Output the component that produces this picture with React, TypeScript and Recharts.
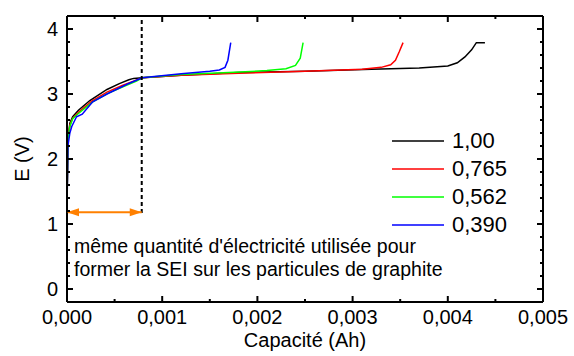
import { LineChart, Line, XAxis, YAxis } from 'recharts'

// capacity (Ah) / potential (V) per series
const cap100 = [0, 0.00001, 0.00003, 0.00006, 0.00012, 0.00024, 0.00042, 0.00055, 0.00065, 0.0007, 0.00079, 0.0012, 0.0018, 0.0025, 0.0032, 0.0037, 0.004, 0.0041, 0.00418, 0.00425, 0.0043, 0.00439]
const e100 = [1.3, 2.3, 2.55, 2.65, 2.75, 2.9, 3.07, 3.16, 3.22, 3.24, 3.25, 3.29, 3.33, 3.35, 3.38, 3.4, 3.43, 3.48, 3.57, 3.68, 3.79, 3.79]

const cap765 = [0, 0.00001, 0.00003, 0.00006, 0.00012, 0.00026, 0.00042, 0.00058, 0.00072, 0.00079, 0.0012, 0.0018, 0.0025, 0.0031, 0.0033, 0.0034, 0.00345, 0.00349, 0.00353]
const e765 = [1.3, 2.3, 2.52, 2.63, 2.72, 2.89, 3.03, 3.13, 3.21, 3.25, 3.29, 3.32, 3.35, 3.38, 3.41, 3.45, 3.52, 3.65, 3.79]

const cap562 = [0, 0.00001, 0.00003, 0.00006, 0.00012, 0.00027, 0.00043, 0.0006, 0.00073, 0.00079, 0.0012, 0.0017, 0.0021, 0.0023, 0.0024, 0.00245, 0.00248]
const e562 = [1.3, 2.3, 2.5, 2.62, 2.7, 2.88, 3.01, 3.12, 3.2, 3.25, 3.3, 3.33, 3.36, 3.39, 3.44, 3.55, 3.79]

const cap390 = [0, 0.00001, 0.00003, 0.00005, 0.0001, 0.00016, 0.00027, 0.00042, 0.00063, 0.00079, 0.0012, 0.0015, 0.0016, 0.00166, 0.00169, 0.00172]
const e390 = [1.25, 2.2, 2.4, 2.5, 2.65, 2.69, 2.88, 3.0, 3.15, 3.25, 3.31, 3.35, 3.37, 3.41, 3.52, 3.79]

// SEI marker: dashed vertical + double arrow
const dashX = [0.000785, 0.000785]
const dashY = [1.17, 4.2]
const arrowX = [0, 0.000785]
const arrowY = [1.18, 1.18]

const seriesNames = ['1,00', '0,765', '0,562', '0,390']
const seriesColors = ['#000000', '#ff0000', '#00ff00', '#0000ff']

const xTicks = Array.from({ length: 11 }, (_, i) => Math.round(i * 5) / 10000)
const yTicks = Array.from({ length: 21 }, (_, i) => Math.round(i * 2) / 10)

const toPts = (xs: number[], ys: number[]) => xs.map((x, i) => ({ x, y: ys[i] }))

const series = [
  toPts(cap100, e100),
  toPts(cap765, e765),
  toPts(cap562, e562),
  toPts(cap390, e390),
]

const FONT = '"Liberation Sans", Arial, sans-serif'

const isMajorX = (v: number) => Math.abs(v * 1000 - Math.round(v * 1000)) < 1e-6
const isMajorY = (v: number) => Math.abs(v - Math.round(v)) < 1e-6

const BottomTick = (p: any) => {
  const v = p.payload.value
  const major = isMajorX(v)
  return (
    <g>
      <line x1={p.x} x2={p.x} y1={p.y} y2={p.y - (major ? 6 : 3)} stroke="#000" strokeWidth={2} />
      {major && (
        <text x={p.x} y={p.y + 22} textAnchor="middle" fontSize={20} fontFamily={FONT} fill="#000">
          {v.toFixed(3).replace('.', ',')}
        </text>
      )}
    </g>
  )
}

const TopTick = (p: any) => {
  const major = isMajorX(p.payload.value)
  return <line x1={p.x} x2={p.x} y1={p.y} y2={p.y + (major ? 6 : 3)} stroke="#000" strokeWidth={2} />
}

const LeftTick = (p: any) => {
  const v = p.payload.value
  const major = isMajorY(v)
  return (
    <g>
      <line x1={p.x} x2={p.x + (major ? 6 : 3)} y1={p.y} y2={p.y} stroke="#000" strokeWidth={2} />
      {major && (
        <text x={p.x - 9} y={p.y + 7} textAnchor="end" fontSize={20} fontFamily={FONT} fill="#000">
          {String(Math.round(v))}
        </text>
      )}
    </g>
  )
}

const RightTick = (p: any) => {
  const major = isMajorY(p.payload.value)
  return <line x1={p.x} x2={p.x - (major ? 6 : 3)} y1={p.y} y2={p.y} stroke="#000" strokeWidth={2} />
}

const ArrowHead = (p: any) => {
  const { cx, cy, index } = p
  const dir = index === 0 ? 1 : -1
  return (
    <path
      key={index}
      d={`M${cx},${cy} L${cx + dir * 12},${cy - 4} L${cx + dir * 12},${cy + 4} Z`}
      fill="#ff8000"
      stroke="none"
    />
  )
}

export default function App() {
  return (
    <div style={{ position: 'absolute', left: 0, top: 0, width: 574, height: 356, background: '#fff', fontFamily: FONT }}>
      <LineChart width={574} height={356} margin={{ top: 15, right: 30, bottom: 14, left: 17 }}>
        <XAxis
          xAxisId="b"
          dataKey="x"
          type="number"
          domain={[0, 0.005]}
          ticks={xTicks}
          interval={0}
          allowDataOverflow
          height={40}
          tickSize={0}
          tickMargin={0}
          tickLine={false}
          axisLine={{ stroke: '#000', strokeWidth: 2 }}
          tick={<BottomTick />}
          label={{ value: 'Capacité (Ah)', position: 'bottom', offset: -9, fontSize: 20, fill: '#000', fontFamily: FONT }}
        />
        <XAxis
          xAxisId="t"
          orientation="top"
          dataKey="x"
          type="number"
          domain={[0, 0.005]}
          ticks={xTicks}
          interval={0}
          allowDataOverflow
          height={1}
          tickSize={0}
          tickMargin={0}
          tickLine={false}
          axisLine={{ stroke: '#000', strokeWidth: 2 }}
          tick={<TopTick />}
        />
        <YAxis
          yAxisId="l"
          type="number"
          domain={[-0.2, 4.2]}
          ticks={yTicks}
          interval={0}
          allowDataOverflow
          width={50}
          tickSize={0}
          tickMargin={0}
          tickLine={false}
          axisLine={{ stroke: '#000', strokeWidth: 2 }}
          tick={<LeftTick />}
          label={{ value: 'E (V)', angle: -90, position: 'insideLeft', offset: 5, fontSize: 20, fill: '#000', fontFamily: FONT, style: { textAnchor: 'middle' } }}
        />
        <YAxis
          yAxisId="r"
          orientation="right"
          type="number"
          domain={[-0.2, 4.2]}
          ticks={yTicks}
          interval={0}
          allowDataOverflow
          width={1}
          tickSize={0}
          tickMargin={0}
          tickLine={false}
          axisLine={{ stroke: '#000', strokeWidth: 2 }}
          tick={<RightTick />}
        />
        {series.map((d, i) => (
          <Line
            key={seriesNames[i]}
            xAxisId="b"
            yAxisId="l"
            data={d}
            dataKey="y"
            name={seriesNames[i]}
            stroke={seriesColors[i]}
            strokeWidth={1.5}
            dot={false}
            type="linear"
            isAnimationActive={false}
          />
        ))}
        <Line
          xAxisId="b"
          yAxisId="l"
          data={toPts(dashX, dashY)}
          dataKey="y"
          stroke="#000"
          strokeWidth={2}
          strokeDasharray="4 3"
          dot={false}
          isAnimationActive={false}
        />
        <Line
          xAxisId="b"
          yAxisId="l"
          data={toPts(arrowX, arrowY)}
          dataKey="y"
          stroke="#ff8000"
          strokeWidth={2}
          dot={<ArrowHead />}
          isAnimationActive={false}
        />
      </LineChart>
      <div style={{ position: 'absolute', left: 392, top: 127, fontSize: 22, color: '#000' }}>
        {seriesNames.map((n, i) => (
          <div key={n} style={{ display: 'flex', alignItems: 'center', height: 28 }}>
            <svg width={52} height={4} style={{ marginRight: 8, display: 'block' }}>
              <line x1={0} x2={52} y1={2} y2={2} stroke={seriesColors[i]} strokeWidth={1.5} />
            </svg>
            <span>{n}</span>
          </div>
        ))}
      </div>
      <div style={{ position: 'absolute', left: 74, top: 235, fontSize: 19.5, lineHeight: '23px', color: '#000', whiteSpace: 'nowrap' }}>
        même quantité d'électricité utilisée pour
        <br />
        former la SEI sur les particules de graphite
      </div>
    </div>
  )
}
